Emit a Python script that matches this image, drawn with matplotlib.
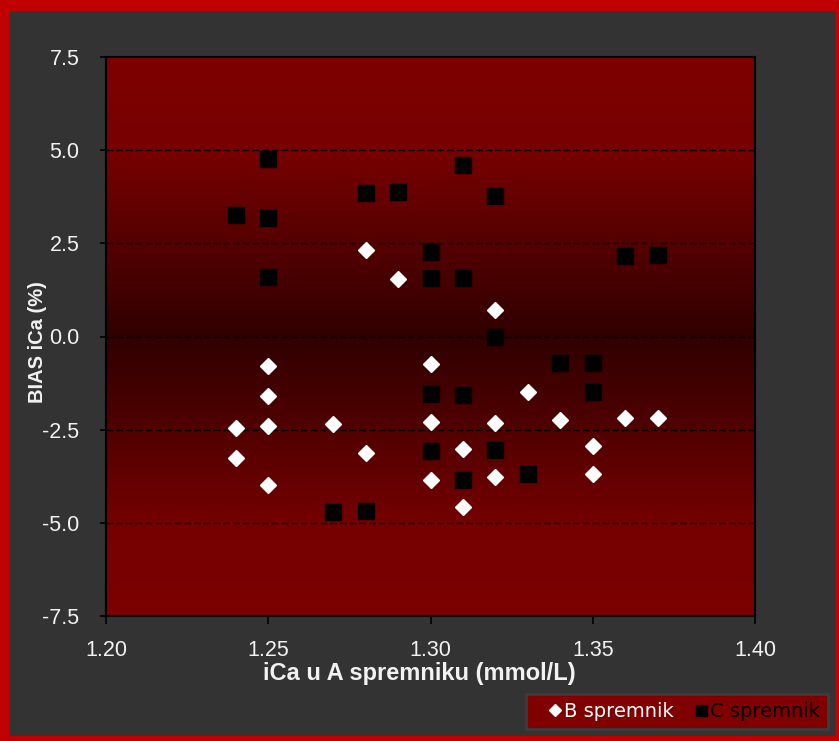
import numpy as np
import matplotlib.pyplot as plt
from matplotlib.colors import LinearSegmentedColormap
from matplotlib.patches import Rectangle

# iCa u A spremniku (mmol/L) i BIAS (%)
b_x = [1.24, 1.24, 1.25, 1.25, 1.25, 1.25, 1.27, 1.28, 1.28, 1.29, 1.30, 1.30,
       1.30, 1.31, 1.31, 1.32, 1.32, 1.32, 1.33, 1.34, 1.35, 1.35, 1.36, 1.37]
b_y = [-2.45, -3.25, -0.80, -1.60, -2.40, -3.98, -2.35, 2.33, -3.12, 1.53, -0.75, -2.30,
       -3.85, -3.03, -4.58, 0.72, -2.31, -3.78, -1.50, -2.25, -2.95, -3.68, -2.20, -2.20]

c_x = [1.24, 1.25, 1.25, 1.25, 1.27, 1.28, 1.28, 1.29, 1.30, 1.30, 1.30, 1.30, 1.31,
       1.31, 1.31, 1.31, 1.32, 1.32, 1.32, 1.33, 1.34, 1.35, 1.35, 1.36, 1.37]
c_y = [3.25, 4.76, 3.17, 1.61, -4.72, 3.86, -4.67, 3.89, 2.28, 1.56, -1.53, -3.08, 4.59,
       1.56, -1.56, -3.84, 3.78, 0.00, -3.05, -3.70, -0.72, -0.72, -1.50, 2.17, 2.20]

x_ticks = [1.20, 1.25, 1.30, 1.35, 1.40]
y_ticks = [-7.5, -5.0, -2.5, 0.0, 2.5, 5.0, 7.5]
grid_y = [-5.0, -2.5, 0.0, 2.5, 5.0]

plt.rcParams['font.family'] = ['Liberation Sans', 'DejaVu Sans']

fig = plt.figure(figsize=(8.39, 7.41), dpi=100)
fig.patch.set_facecolor('#c00000')

# sivi okvir unutar crvenog ruba (pozadinske osi)
bg = fig.add_axes([0, 0, 1, 1], zorder=-10)
bg.set_xlim(0, 839)
bg.set_ylim(741, 0)
bg.axis('off')
bg.add_patch(Rectangle((10, 11), 825, 725, facecolor='#333333', edgecolor='none'))

ax = fig.add_axes([106 / 839, 1 - 616 / 741, 649 / 839, 559 / 741])
ax.set_xlim(1.20, 1.40)
ax.set_ylim(-7.5, 7.5)

# pozadina s gradijentom (odozdo prema gore, najtamnije oko nule)
cmap = LinearSegmentedColormap.from_list('bg', [(0.0, '#7c0000'), (0.16, '#760000'),
                                                (0.33, '#520000'), (0.5, '#300000'),
                                                (0.67, '#560000'), (0.84, '#780000'),
                                                (1.0, '#7e0000')])
grad = np.linspace(0, 1, 256).reshape(-1, 1)
ax.imshow(grad, cmap=cmap, aspect='auto', extent=[0, 1, 0, 1], origin='lower',
          transform=ax.transAxes, zorder=0, interpolation='bicubic')

for g in grid_y:
    ax.axhline(g, color='black', linestyle=(0, (5, 2)), linewidth=1.0, zorder=1)

b_line, = ax.plot(b_x, b_y, linestyle='none', marker='D', markersize=8.5, color='white',
                  markeredgecolor='white', label='B spremnik', zorder=3)
c_line, = ax.plot(c_x, c_y, linestyle='none', marker='s', markersize=11, color='black',
                  markeredgecolor='black', label='C spremnik', zorder=3)

ax.set_xticks(x_ticks)
ax.set_xticklabels(['%.2f' % v for v in x_ticks])
ax.set_yticks(y_ticks)
ax.set_yticklabels(['%.1f' % v for v in y_ticks])
ax.tick_params(axis='both', direction='out', colors='black', labelcolor='#f2f2f2',
               labelsize=15.5, width=1.2)
ax.tick_params(axis='x', length=6, pad=11)
ax.tick_params(axis='y', length=4, pad=15)

for s in ax.spines.values():
    s.set_color('black')
    s.set_linewidth(1.5)

ax.set_xlabel('iCa u A spremniku (mmol/L)', color='#f2f2f2', fontsize=17, fontweight='bold')
ax.set_ylabel('BIAS iCa (%)', color='#f2f2f2', fontsize=14.5, fontweight='bold')
ax.xaxis.set_label_coords(0.482, -0.082)
ax.yaxis.set_label_coords(-0.091, 0.49)

leg = fig.legend(handles=[b_line, c_line], loc='lower right',
                 bbox_to_anchor=(828 / 839, 1 - 729 / 741), ncol=2,
                 prop={'family': 'DejaVu Sans', 'size': 14},
                 frameon=True, fancybox=False, borderaxespad=0, handlelength=2.2,
                 handletextpad=-0.65, columnspacing=0.35, borderpad=0.4, markerscale=0.72)
leg.get_frame().set_facecolor('#800000')
leg.get_frame().set_edgecolor('#3c3c3c')
leg.get_frame().set_linewidth(2)
leg.get_frame().set_alpha(1)
leg.get_texts()[0].set_color('white')
leg.get_texts()[1].set_color('black')

fig.savefig('out.png', dpi=100, facecolor=fig.get_facecolor())
